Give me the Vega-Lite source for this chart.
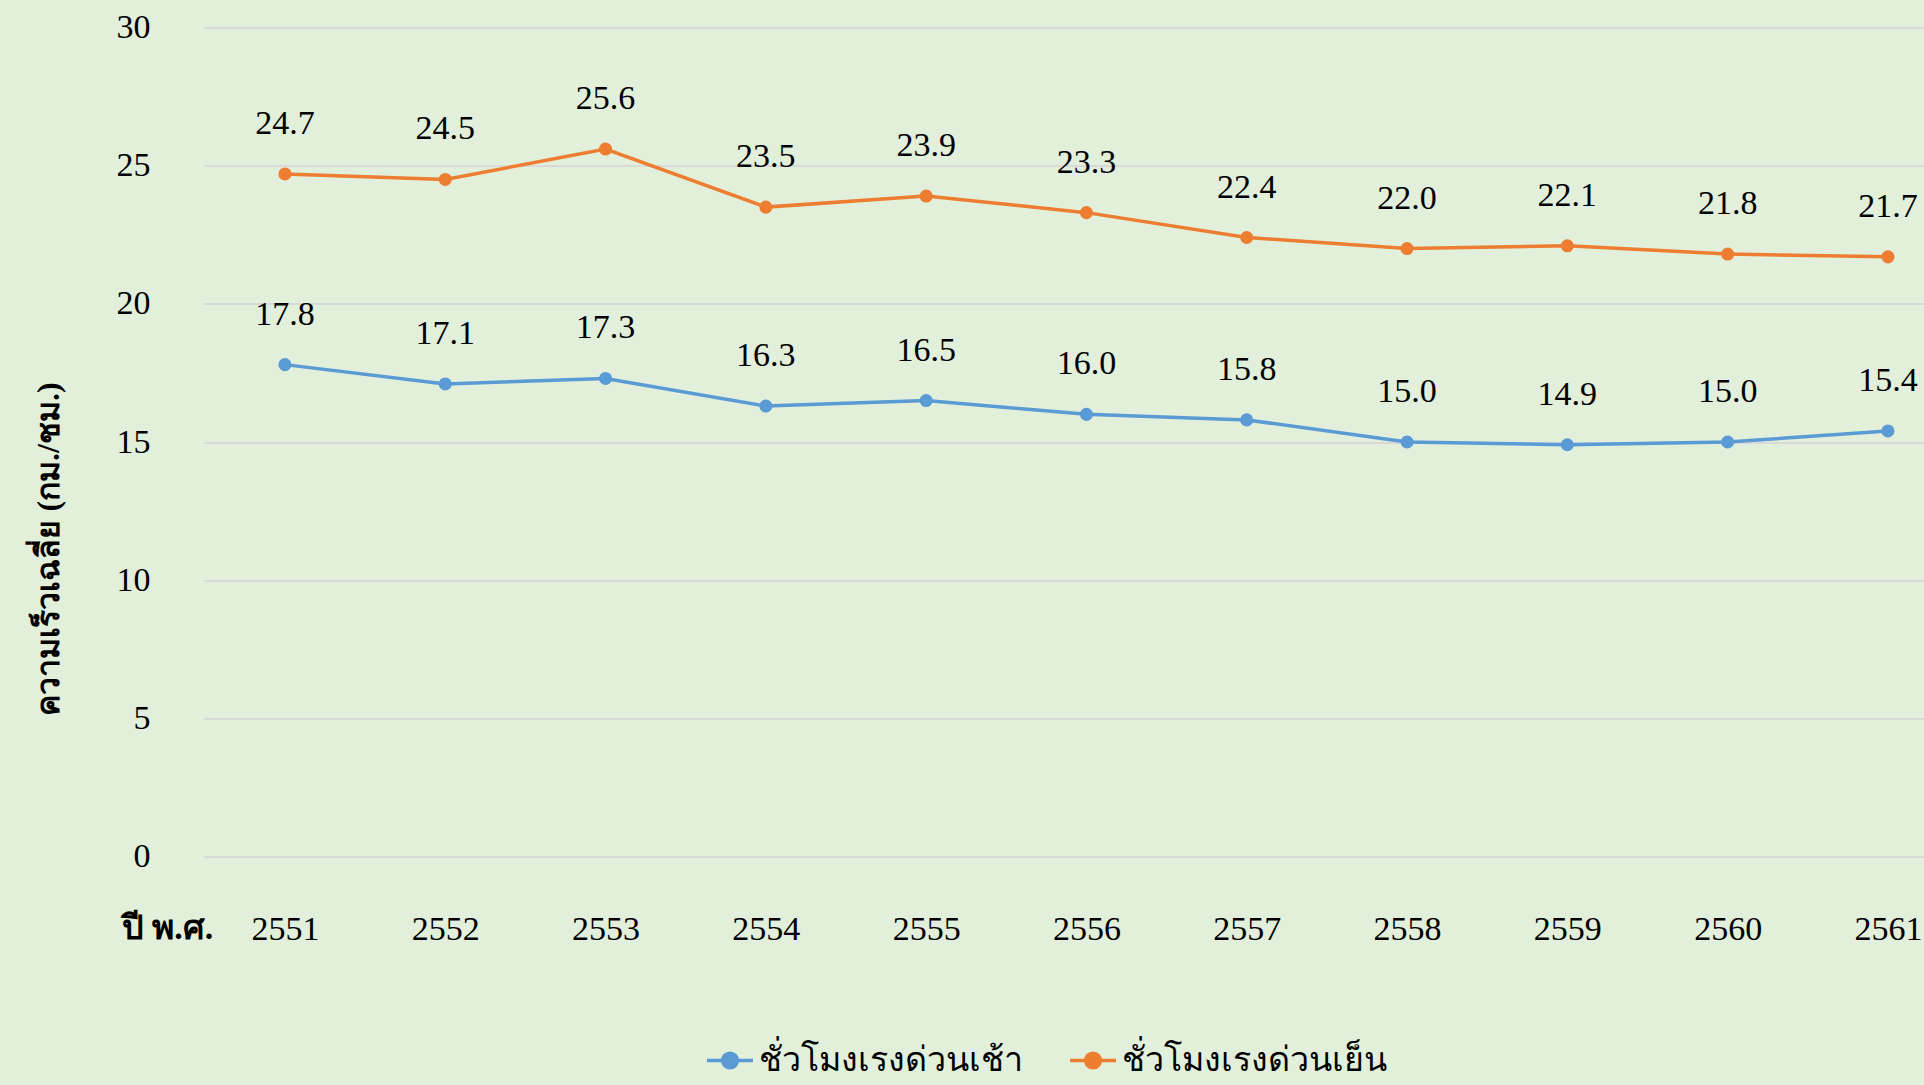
{
  "$schema": "https://vega.github.io/schema/vega-lite/v6.json",
  "autosize": "none",
  "width": 1720,
  "height": 829,
  "padding": {"left": 204, "top": 27.5, "right": 0, "bottom": 228.5},
  "background": "#E2EFDA",
  "config": {
    "view": {"stroke": null},
    "font": "Liberation Serif"
  },
  "data": {
    "values": [
      {"year": 2551, "series": "ชั่วโมงเรงด่วนเช้า", "speed": 17.8},
      {"year": 2552, "series": "ชั่วโมงเรงด่วนเช้า", "speed": 17.1},
      {"year": 2553, "series": "ชั่วโมงเรงด่วนเช้า", "speed": 17.3},
      {"year": 2554, "series": "ชั่วโมงเรงด่วนเช้า", "speed": 16.3},
      {"year": 2555, "series": "ชั่วโมงเรงด่วนเช้า", "speed": 16.5},
      {"year": 2556, "series": "ชั่วโมงเรงด่วนเช้า", "speed": 16.0},
      {"year": 2557, "series": "ชั่วโมงเรงด่วนเช้า", "speed": 15.8},
      {"year": 2558, "series": "ชั่วโมงเรงด่วนเช้า", "speed": 15.0},
      {"year": 2559, "series": "ชั่วโมงเรงด่วนเช้า", "speed": 14.9},
      {"year": 2560, "series": "ชั่วโมงเรงด่วนเช้า", "speed": 15.0},
      {"year": 2561, "series": "ชั่วโมงเรงด่วนเช้า", "speed": 15.4},
      {"year": 2551, "series": "ชั่วโมงเรงด่วนเย็น", "speed": 24.7},
      {"year": 2552, "series": "ชั่วโมงเรงด่วนเย็น", "speed": 24.5},
      {"year": 2553, "series": "ชั่วโมงเรงด่วนเย็น", "speed": 25.6},
      {"year": 2554, "series": "ชั่วโมงเรงด่วนเย็น", "speed": 23.5},
      {"year": 2555, "series": "ชั่วโมงเรงด่วนเย็น", "speed": 23.9},
      {"year": 2556, "series": "ชั่วโมงเรงด่วนเย็น", "speed": 23.3},
      {"year": 2557, "series": "ชั่วโมงเรงด่วนเย็น", "speed": 22.4},
      {"year": 2558, "series": "ชั่วโมงเรงด่วนเย็น", "speed": 22.0},
      {"year": 2559, "series": "ชั่วโมงเรงด่วนเย็น", "speed": 22.1},
      {"year": 2560, "series": "ชั่วโมงเรงด่วนเย็น", "speed": 21.8},
      {"year": 2561, "series": "ชั่วโมงเรงด่วนเย็น", "speed": 21.7}
    ]
  },
  "encoding": {
    "x": {
      "field": "year",
      "type": "quantitative",
      "scale": {"domain": [2550.495, 2561.225], "nice": false, "zero": false},
      "axis": {
        "values": [2551, 2552, 2553, 2554, 2555, 2556, 2557, 2558, 2559, 2560, 2561],
        "format": "d",
        "grid": false,
        "domain": false,
        "ticks": false,
        "labelFont": "Liberation Serif",
        "labelFontSize": 34,
        "labelColor": "#000000",
        "labelBaseline": "alphabetic",
        "labelPadding": 83,
        "labelFlush": false,
        "labelOverlap": false,
        "title": "ปี พ.ศ.",
        "titleFont": "Liberation Serif",
        "titleFontSize": 34,
        "titleFontWeight": "bold",
        "titleColor": "#000000",
        "titleX": -37,
        "titleY": 72,
        "titleAlign": "center",
        "titleBaseline": "middle",
        "titleAngle": 0
      }
    },
    "y": {
      "field": "speed",
      "type": "quantitative",
      "scale": {"domain": [0, 30], "nice": false},
      "axis": {
        "values": [0, 5, 10, 15, 20, 25, 30],
        "grid": true,
        "gridColor": "#D9D9D9",
        "gridWidth": 2,
        "domain": false,
        "ticks": false,
        "labelFont": "Liberation Serif",
        "labelFontSize": 34,
        "labelColor": "#000000",
        "labelPadding": 54,
        "title": "ความเร็วเฉลี่ย (กม./ชม.)",
        "titleFont": "Liberation Serif",
        "titleFontSize": 32,
        "titleFontWeight": "bold",
        "titleColor": "#000000",
        "titleX": -156,
        "titleY": 521,
        "titleAngle": -90,
        "titleAlign": "center",
        "titleBaseline": "middle"
      }
    },
    "color": {
      "field": "series",
      "type": "nominal",
      "scale": {
        "domain": ["ชั่วโมงเรงด่วนเช้า", "ชั่วโมงเรงด่วนเย็น"],
        "range": ["#5B9BD5", "#ED7D31"]
      },
      "legend": {
        "title": null,
        "orient": "none",
        "direction": "horizontal",
        "legendX": 501,
        "legendY": 1008,
        "symbolType": "M-1,0L1,0M-0.32,0A0.32,0.32,0,1,0,0.32,0A0.32,0.32,0,1,0,-0.32,0Z",
        "symbolSize": 2116,
        "symbolStrokeWidth": 3.5,
        "labelFont": "Liberation Serif",
        "labelFontSize": 34,
        "labelColor": "#000000",
        "labelOffset": 4,
        "columnPadding": 40,
        "labelLimit": 600,
        "encode": {
          "symbols": {
            "update": {
              "stroke": {"scale": "color", "field": "value"},
              "fill": {"scale": "color", "field": "value"},
              "strokeWidth": {"value": 3.5},
              "opacity": {"value": 1}
            }
          }
        }
      }
    }
  },
  "layer": [
    {
      "mark": {"type": "line", "strokeWidth": 3.5}
    },
    {
      "mark": {"type": "point", "filled": true, "opacity": 1, "size": 170}
    },
    {
      "mark": {"type": "text", "dy": -50, "baseline": "middle", "align": "center", "font": "Liberation Serif", "fontSize": 34},
      "encoding": {
        "text": {"field": "speed", "type": "quantitative", "format": ".1f"},
        "color": {"value": "#000000"}
      }
    }
  ]
}
